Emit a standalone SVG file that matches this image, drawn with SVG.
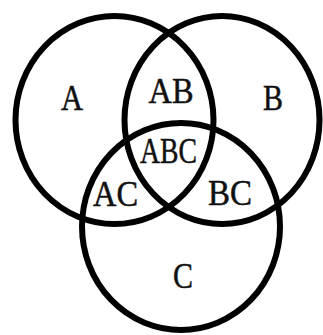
<svg xmlns="http://www.w3.org/2000/svg" width="323" height="335" viewBox="0 0 323 335">
<style>
.set{fill:none;stroke:#000;stroke-width:6}
.lbl{font-family:"Liberation Serif","Times New Roman",serif;font-size:35px;fill:#111;stroke:#111;stroke-width:0.5;text-anchor:middle}
</style>
<rect width="323" height="335" fill="#fff"/>
<g id="circles">
<g id="setA"><ellipse class="set" cx="114.5" cy="120" rx="99" ry="104"/></g>
<g id="setB"><ellipse class="set" cx="222" cy="120" rx="97.5" ry="104"/></g>
<g id="setC"><ellipse class="set" cx="181" cy="226.5" rx="99" ry="103.5"/></g>
</g>
<g id="labels">
<text class="lbl" x="72" y="110" textLength="22" lengthAdjust="spacingAndGlyphs">A</text>
<text class="lbl" x="171" y="103" textLength="45" lengthAdjust="spacingAndGlyphs">AB</text>
<text class="lbl" x="273" y="110" textLength="20" lengthAdjust="spacingAndGlyphs">B</text>
<text class="lbl" x="168.5" y="163" textLength="57" lengthAdjust="spacingAndGlyphs">ABC</text>
<text class="lbl" x="115.5" y="206" textLength="45" lengthAdjust="spacingAndGlyphs">AC</text>
<text class="lbl" x="230" y="205" textLength="44" lengthAdjust="spacingAndGlyphs">BC</text>
<text class="lbl" x="183" y="288" textLength="20" lengthAdjust="spacingAndGlyphs">C</text>
</g>
</svg>
